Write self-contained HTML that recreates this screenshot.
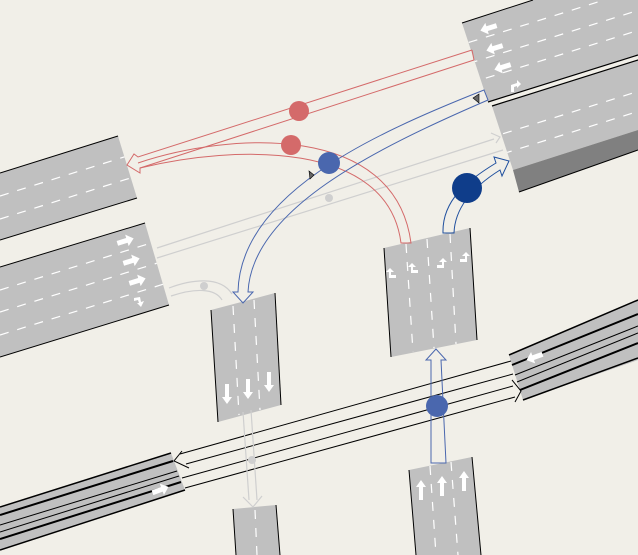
<!DOCTYPE html>
<html><head><meta charset="utf-8"><style>html,body{margin:0;padding:0;background:#f1efe8}svg{display:block}</style></head>
<body>
<svg width="638" height="555" viewBox="0 0 638 555" xmlns="http://www.w3.org/2000/svg">
<defs>
<clipPath id="cTR1"><polygon points="462,23 533,0 638,0 638,55 488,102"/></clipPath>
<clipPath id="cTR2"><polygon points="492,106 638,60 638,130 513,170"/></clipPath>
<clipPath id="cA"><polygon points="0,173 118,136 137,198 0,240"/></clipPath>
<clipPath id="cB"><polygon points="0,267 145,223 169,305 0,357"/></clipPath>
<g id="arrL"><polygon points="-9,0 -2,-6 -2,-2.5 8,-2.5 8,2.5 -2,2.5 -2,6" fill="#fff"/></g>
<g id="arrD"><polygon points="0,10 -5,3 -2,3 -2,-10 2,-10 2,3 5,3" fill="#fff"/></g>
</defs>
<rect width="638" height="555" fill="#f1efe8"/>

<!-- top-right roads -->
<polygon points="462,23 533,0 638,0 638,55 488,102" fill="#c0c0c0"/>
<line x1="462" y1="23" x2="533" y2="0" stroke="#000" stroke-width="1"/>
<line x1="488" y1="102" x2="638" y2="55" stroke="#000" stroke-width="1.2"/>
<g clip-path="url(#cTR1)" stroke="#fff" stroke-width="1.2" stroke-dasharray="9,9">
<line x1="400" y1="64" x2="700" y2="-30"/>
<line x1="400" y1="85" x2="700" y2="-9"/>
<line x1="400" y1="105" x2="700" y2="11"/>
</g>
<polygon points="492,106 638,60 638,130 513,170" fill="#c0c0c0"/>
<polygon points="513,170 638,130 638,150 519,192" fill="#808080"/>
<line x1="492" y1="106" x2="638" y2="60" stroke="#000" stroke-width="1.2"/>
<line x1="519" y1="192" x2="638" y2="150" stroke="#000" stroke-width="1"/>
<g clip-path="url(#cTR2)" stroke="#fff" stroke-width="1.2" stroke-dasharray="9,9">
<line x1="400" y1="166" x2="700" y2="72"/>
<line x1="400" y1="186" x2="700" y2="92"/>
</g>
<g transform="translate(489,28) rotate(-17)"><use href="#arrL"/></g>
<g transform="translate(495,48) rotate(-17)"><use href="#arrL"/></g>
<g transform="translate(503,67) rotate(-17)"><use href="#arrL"/></g>
<polygon points="511,92 511,85 517,83 517,80 521,84 517,88 517,86 514,87 514,92" fill="#fff"/>

<!-- left road A -->
<polygon points="0,173 118,136 137,198 0,240" fill="#c0c0c0"/>
<line x1="0" y1="173" x2="118" y2="136" stroke="#000"/>
<line x1="0" y1="240" x2="137" y2="198" stroke="#000"/>
<g clip-path="url(#cA)" stroke="#fff" stroke-width="1.2" stroke-dasharray="9,9">
<line x1="0" y1="196" x2="140" y2="152"/>
<line x1="0" y1="219" x2="140" y2="175"/>
</g>
<!-- left road B -->
<polygon points="0,267 145,223 169,305 0,357" fill="#c0c0c0"/>
<line x1="0" y1="267" x2="145" y2="223" stroke="#000"/>
<line x1="0" y1="357" x2="169" y2="305" stroke="#000"/>
<g clip-path="url(#cB)" stroke="#fff" stroke-width="1.2" stroke-dasharray="9,9">
<line x1="0" y1="290" x2="180" y2="234"/>
<line x1="0" y1="312" x2="180" y2="256"/>
<line x1="0" y1="335" x2="180" y2="279"/>
</g>
<g transform="translate(125,241) rotate(163)"><use href="#arrL"/></g>
<g transform="translate(131,261) rotate(163)"><use href="#arrL"/></g>
<g transform="translate(137,281) rotate(163)"><use href="#arrL"/></g>
<polygon points="134,298 140,297 141,302 144,301 141,307 137,303 139,303 138,300 134,301" fill="#fff"/>

<!-- C1 -->
<polygon points="211,310 275,293 281,405 218,422" fill="#c0c0c0"/>
<line x1="211" y1="310" x2="218" y2="422" stroke="#000"/>
<line x1="275" y1="293" x2="281" y2="405" stroke="#000"/>
<g stroke="#fff" stroke-width="1.2" stroke-dasharray="9,9">
<line x1="233" y1="306" x2="239" y2="415"/><line x1="254" y1="300" x2="260" y2="410"/>
</g>
<g transform="translate(227,394)"><use href="#arrD"/></g>
<g transform="translate(248,389)"><use href="#arrD"/></g>
<g transform="translate(269,382)"><use href="#arrD"/></g>
<!-- C2 -->
<polygon points="233,509 276,505 280,555 236,555" fill="#c0c0c0"/>
<line x1="233" y1="509" x2="236" y2="555" stroke="#000"/>
<line x1="276" y1="505" x2="280" y2="555" stroke="#000"/>
<line x1="255" y1="510" x2="257" y2="555" stroke="#fff" stroke-dasharray="9,9" stroke-width="1.2"/>

<!-- D1 -->
<polygon points="384,248 470,228 477,340 391,357" fill="#c0c0c0"/>
<line x1="384" y1="248" x2="391" y2="357" stroke="#000"/>
<line x1="470" y1="228" x2="477" y2="340" stroke="#000"/>
<g stroke="#fff" stroke-width="1.2" stroke-dasharray="9,9">
<line x1="406" y1="244" x2="413" y2="352"/><line x1="427" y1="239" x2="434" y2="348"/><line x1="450" y1="234" x2="456" y2="344"/>
</g>
<g fill="#fff">
<polygon points="389,278 389,272 386,272 390,268 394,272 391,272 391,275 396,275 396,278"/>
<polygon points="411,273 411,267 408,267 412,263 416,267 413,267 413,270 418,270 418,273"/>
<polygon points="444,268 444,262 447,262 443,258 439,262 442,262 442,265 437,265 437,268"/>
<polygon points="467,262 467,256 470,256 466,252 462,256 465,256 465,259 460,259 460,262"/>
</g>
<!-- D2 -->
<polygon points="409,470 472,457 481,555 416,555" fill="#c0c0c0"/>
<line x1="409" y1="470" x2="416" y2="555" stroke="#000"/>
<line x1="472" y1="457" x2="481" y2="555" stroke="#000"/>
<g stroke="#fff" stroke-width="1.2" stroke-dasharray="9,9">
<line x1="430" y1="466" x2="436" y2="555"/><line x1="451" y1="462" x2="458" y2="555"/>
</g>
<g transform="translate(421,490) rotate(180)"><use href="#arrD"/></g>
<g transform="translate(442,486) rotate(180)"><use href="#arrD"/></g>
<g transform="translate(464,481) rotate(180)"><use href="#arrD"/></g>

<!-- E lower right -->
<polygon points="509,355 638,300 638,360 523,400" fill="#c0c0c0"/>
<g stroke="#000">
<line x1="509" y1="355" x2="638" y2="300" stroke-width="1.5"/>
<line x1="512" y1="365" x2="638" y2="314" stroke-width="2"/>
<line x1="515" y1="375" x2="638" y2="326" stroke-width="1"/>
<line x1="517" y1="382" x2="638" y2="333" stroke-width="1"/>
<line x1="520" y1="390" x2="638" y2="343" stroke-width="2"/>
<line x1="523" y1="400" x2="638" y2="358" stroke-width="1.5"/>
</g>
<g transform="translate(535,357) rotate(-20)"><use href="#arrL"/></g>
<!-- F lower left -->
<polygon points="0,507 171,453 185,490 0,550" fill="#c0c0c0"/>
<g stroke="#000">
<line x1="0" y1="507" x2="171" y2="453" stroke-width="1.5"/>
<line x1="0" y1="515" x2="173" y2="461" stroke-width="2"/>
<line x1="0" y1="525" x2="177" y2="471" stroke-width="1"/>
<line x1="0" y1="532" x2="179" y2="476" stroke-width="1"/>
<line x1="0" y1="539" x2="181" y2="482" stroke-width="2"/>
<line x1="0" y1="550" x2="185" y2="490" stroke-width="1.5"/>
</g>
<g transform="translate(160,490) rotate(160)"><use href="#arrL"/></g>

<!-- black double arrows -->
<g stroke="#000" stroke-width="1" fill="none">
<line x1="180" y1="454" x2="511" y2="361"/>
<line x1="186" y1="464" x2="513" y2="374"/>
<polyline points="182,451 174,461 189,468"/>
<line x1="182" y1="478" x2="513" y2="386"/>
<line x1="185" y1="488" x2="515" y2="397"/>
<polyline points="512,380 521,391 515,402"/>
</g>

<!-- gray connectors -->
<g stroke="#cfcfcf" stroke-width="1.2" fill="none">
<line x1="157" y1="248" x2="494" y2="139"/>
<line x1="157" y1="258" x2="503" y2="150"/>
<polyline points="491,133 500,137 496,143"/>
<path d="M169,288 C190,280 220,275 232,294"/>
<path d="M171,296 C195,288 215,288 222,300"/>
<line x1="243" y1="412" x2="249" y2="500"/>
<line x1="251" y1="410" x2="257" y2="500"/>
<polyline points="243,497 253,507 262,496"/>
</g>
<circle cx="329" cy="198" r="4" fill="#cfcfcf"/>
<circle cx="204" cy="286" r="4" fill="#cfcfcf"/>
<circle cx="252" cy="460" r="4" fill="#cfcfcf"/>

<!-- red -->
<g stroke="#d46a6a" stroke-width="1" fill="none">
<path d="M472,50 L138,157 L134,154 L127,165 L140,173 L140,168 L474,60"/>
<line x1="472" y1="50" x2="474" y2="60"/>
<path d="M138,163 C230,132 395,122 411,243 L401,243 C388,140 235,145 140,168"/>
</g>
<circle cx="299" cy="111" r="10" fill="#d46a6a"/>
<circle cx="291" cy="145" r="10" fill="#d46a6a"/>

<!-- blue arc -->
<g stroke="#4a67ae" stroke-width="1" fill="none">
<path d="M484,90 C370,135 240,195 238,292 L233,292 L243,303 L253,292 L248,292 C252,210 372,150 488,100 Z"/>
<path d="M436,349 L426,360 L431,360 L431,463 L446,463 L441,360 L446,360 Z"/>
</g>
<polygon points="479,94 473,98 479,103" fill="#666" stroke="#000" stroke-width="0.6"/>
<polygon points="309,171 314,175 310,179" fill="#666" stroke="#000" stroke-width="0.6"/>
<circle cx="329" cy="163" r="11" fill="#4a67ae"/>
<circle cx="437" cy="406" r="11" fill="#4a67ae"/>

<!-- dark blue -->
<path d="M443,233 C442,200 468,180 496,163 L494,157 L509,161 L502,176 L500,170 C476,185 455,205 454,233 Z" fill="none" stroke="#1f4f9e" stroke-width="1"/>
<circle cx="467" cy="188" r="15" fill="#0f3d8a"/>
</svg>
</body></html>
